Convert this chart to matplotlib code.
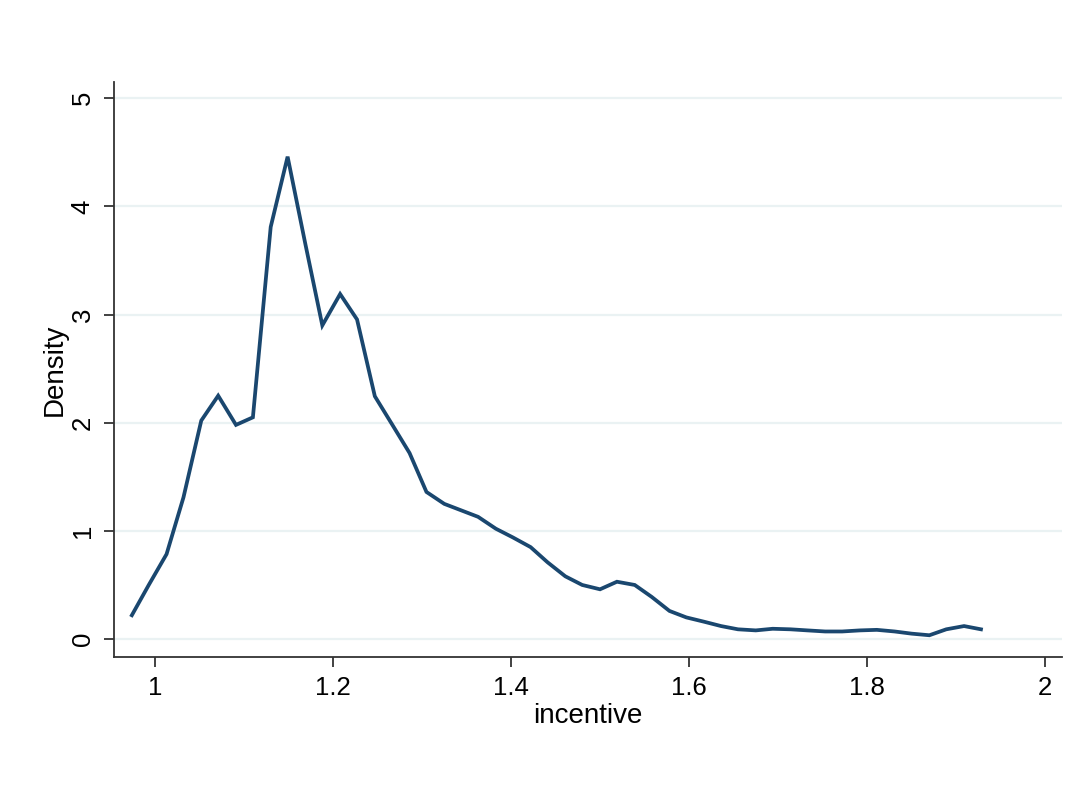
import matplotlib
matplotlib.use("Agg")
import matplotlib.pyplot as plt

plt.rcParams['font.family'] = ['Liberation Sans', 'DejaVu Sans']

# kernel density estimate of incentive (50 points)
incentive = [0.974, 0.993, 1.013, 1.032, 1.052, 1.071, 1.091, 1.110, 1.130, 1.149,
             1.169, 1.188, 1.208, 1.227, 1.247, 1.266, 1.286, 1.305, 1.325, 1.344,
             1.363, 1.383, 1.402, 1.422, 1.441, 1.461, 1.480, 1.500, 1.519, 1.539,
             1.558, 1.578, 1.597, 1.617, 1.636, 1.655, 1.675, 1.694, 1.714, 1.733,
             1.753, 1.772, 1.792, 1.811, 1.831, 1.850, 1.870, 1.889, 1.909, 1.928]
density = [0.22, 0.50, 0.785, 1.31, 2.02, 2.25, 1.98, 2.05, 3.81, 4.46,
           3.65, 2.90, 3.19, 2.955, 2.245, 1.99, 1.72, 1.36, 1.25, 1.19,
           1.13, 1.02, 0.94, 0.85, 0.71, 0.58, 0.50, 0.46, 0.53, 0.50,
           0.39, 0.26, 0.20, 0.16, 0.12, 0.09, 0.08, 0.095, 0.09, 0.08,
           0.07, 0.07, 0.08, 0.085, 0.07, 0.05, 0.035, 0.09, 0.12, 0.09]

xticks = [1, 1.2, 1.4, 1.6, 1.8, 2]
xticklabels = ['1', '1.2', '1.4', '1.6', '1.8', '2']
yticks = [0, 1, 2, 3, 4, 5]

fig = plt.figure(figsize=(10.81, 7.89), dpi=100)
ax = fig.add_axes([0.1055, 0.1673, 0.8769, 0.7287])

for y in yticks:
    ax.axhline(y, color='#eaf2f3', lw=1.6, zorder=0)
ax.plot(incentive, density, color='#1a476f', lw=2.7, solid_joinstyle='miter')

ax.set_xlim(0.954, 2.019)
ax.set_ylim(-0.166, 5.15)
ax.set_xticks(xticks)
ax.set_xticklabels(xticklabels)
ax.set_yticks(yticks)
ax.set_yticklabels([str(v) for v in yticks], rotation=90, va='center')

for s in ['top', 'right']:
    ax.spines[s].set_visible(False)
for s in ['left', 'bottom']:
    ax.spines[s].set_color('#333333')
    ax.spines[s].set_linewidth(1.3)
ax.tick_params(direction='out', length=7, width=1.3, color='#333333',
               labelsize=18.5, pad=7)

ax.set_xlabel('incentive', fontsize=20, labelpad=2)
ax.set_ylabel('Density', fontsize=20, labelpad=2)

fig.savefig('out.png', dpi=100, facecolor='white')
